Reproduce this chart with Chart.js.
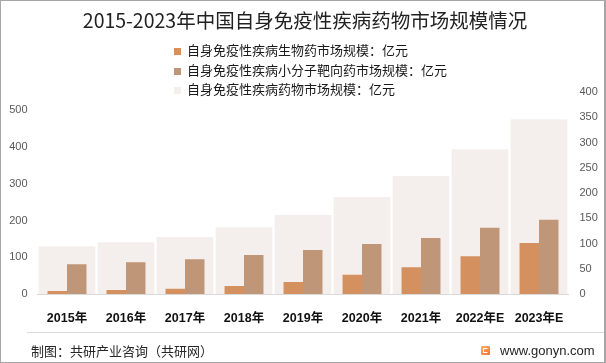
<!DOCTYPE html>
<html>
<head>
<meta charset="utf-8">
<script src="https://cdn.jsdelivr.net/npm/chart.js@4.4.0/dist/chart.umd.min.js"></script>
<style>
  html, body { margin: 0; padding: 0; background: #fff; }
  #wrap { position: relative; width: 606px; height: 363px; overflow: hidden; font-family: "Noto Sans CJK SC", "Liberation Sans", sans-serif; }
  #wrap canvas { position: absolute; left: 0; top: 0; }
  .title { position: absolute; left: 0; width: 610px; top: 7px; text-align: center; font-size: 19.5px; line-height: 26px; color: #222; }
  .legend { position: absolute; left: 174px; top: 40px; font-size: 13px; color: #1a1a1a; }
  .legend div { height: 19.7px; line-height: 20px; white-space: nowrap; }
  .legend span { display: inline-block; width: 7px; height: 7px; margin-right: 6px; vertical-align: 0px; }
  .sep { position: absolute; left: 27px; right: 0; top: 332px; height: 1px; background: #d9d9d9; }
  .foot { position: absolute; left: 31px; top: 342px; font-size: 13px; line-height: 18px; color: #262626; }
  .site { position: absolute; left: 500px; top: 342px; font-size: 13px; line-height: 18px; color: #262626; font-family: "Liberation Sans", sans-serif; }
  .logo { position: absolute; left: 481px; top: 346px; width: 9px; height: 9px; border-radius: 1px; background: linear-gradient(135deg, #fbb36b, #f0703e); }
  .logo i { position: absolute; left: 2px; top: 2px; width: 5px; height: 5px; border: 1px solid #fff; border-right-color: transparent; box-sizing: border-box; }
  .frame { position: absolute; left: 0; top: 0; width: 606px; height: 363px; box-sizing: border-box; border: 1px solid #a6a6a6; border-right-width: 2px; pointer-events: none; }
</style>
</head>
<body>
<div id="wrap">
  <canvas id="chart" width="606" height="363"></canvas>
  <div class="title">2015-2023年中国自身免疫性疾病药物市场规模情况</div>
  <div class="legend" id="legend"></div>
  <div class="sep"></div>
  <div class="foot">制图：共研产业咨询（共研网）</div>
  <div class="logo"><i></i></div>
  <div class="site">www.gonyn.com</div>
  <div class="frame"></div>
</div>
<script>
// 数据（亿元）
const years = ['2015年', '2016年', '2017年', '2018年', '2019年', '2020年', '2021年', '2022年E', '2023年E'];
const bioDrug = [6, 8, 10.5, 16, 24, 38, 53, 75, 101];
const smallMolecule = [59, 63, 69, 77, 87, 99, 111, 131, 147];
const totalMarket = [130, 141, 155, 182, 215, 264, 321, 394, 476];

const names = ['自身免疫性疾病生物药市场规模：亿元', '自身免疫性疾病小分子靶向药市场规模：亿元', '自身免疫性疾病药物市场规模：亿元'];
const colors = ['#D4915F', '#BF9677', '#F4EFEC'];

// 图例
document.getElementById('legend').innerHTML = names.map((n, i) =>
    '<div><span style="background:' + colors[i] + '"></span>' + n + '</div>').join('');

const tickFont = { family: 'Liberation Sans, Noto Sans CJK SC', size: 11 };

new Chart(document.getElementById('chart'), {
    type: 'bar',
    data: {
        labels: years,
        datasets: [
            { label: names[0], data: bioDrug, backgroundColor: colors[0], yAxisID: 'y1', order: 0,
              categoryPercentage: 0.66, barPercentage: 1 },
            { label: names[1], data: smallMolecule, backgroundColor: colors[1], yAxisID: 'y1', order: 0,
              categoryPercentage: 0.66, barPercentage: 1 },
            { label: names[2], data: totalMarket, backgroundColor: colors[2], yAxisID: 'y', order: 5,
              grouped: false, categoryPercentage: 1, barPercentage: 0.96 },
        ]
    },
    options: {
        responsive: false, animation: false,
        layout: { padding: { top: 92, bottom: 0, left: 0, right: 0 } },
        plugins: { legend: { display: false }, tooltip: { enabled: false } },
        scales: {
            x: {
                grid: { display: false, drawTicks: false },
                border: { display: true, color: '#d9d9d9', width: 1 },
                ticks: { color: '#111', padding: 17.5, maxRotation: 0, autoSkip: false,
                         font: { family: 'Liberation Sans, Noto Sans CJK SC', size: 12.5, weight: 'bold' } },
                afterFit(s) { s.height = 69; }
            },
            y: {
                position: 'left', min: 0, max: 550,
                grid: { display: false, drawTicks: false }, border: { display: false },
                ticks: { stepSize: 100, color: '#595959', padding: 10, font: tickFont,
                         callback: v => v > 500 ? '' : v },
                afterFit(s) { s.width = 37.5; }
            },
            y1: {
                position: 'right', min: 0, max: 400,
                grid: { display: false, drawTicks: false }, border: { display: false },
                ticks: { stepSize: 50, color: '#595959', padding: 11, font: tickFont },
                afterFit(s) { s.width = 37.5; }
            }
        }
    }
});
</script>
</body>
</html>
